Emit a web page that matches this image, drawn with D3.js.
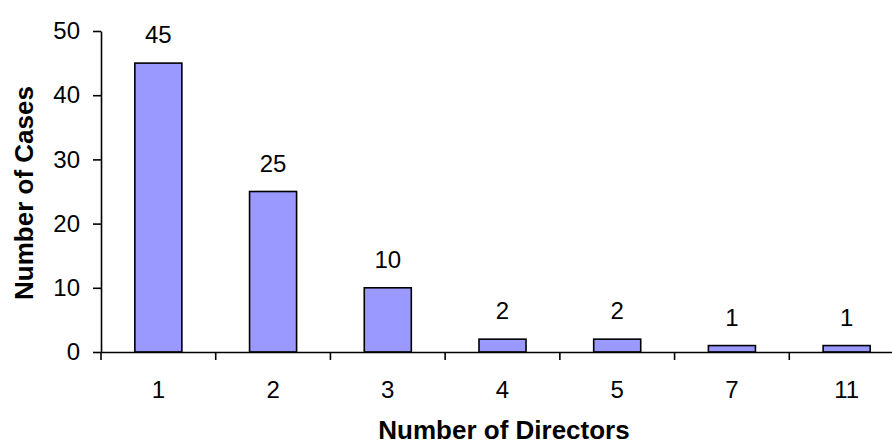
<!DOCTYPE html>
<html>
<head>
<meta charset="utf-8">
<script src="https://cdn.jsdelivr.net/npm/d3@7"></script>
<style>
  body { margin: 0; background: #fff; }
  svg { display: block; font-family: "Liberation Sans", Arial, sans-serif; }
</style>
</head>
<body>
<div id="chart"></div>
<script>
// data
const directors = ['1', '2', '3', '4', '5', '7', '11'];
const cases = [45, 25, 10, 2, 2, 1, 1];
const yTicks = [0, 10, 20, 30, 40, 50];

const width = 892, height = 446;
const margin = { left: 101, top: 31, bottom: 94 };
const plotRight = 904; // axis runs a little past the window edge
const tickFont = 24;

const svg = d3.select('#chart')
    .append('svg')
    .attr('width', width)
    .attr('height', height);

const x = d3.scaleBand()
    .domain(directors)
    .range([margin.left, plotRight])
    .paddingInner(0.59)
    .paddingOuter(0.295);

const y = d3.scaleLinear()
    .domain([0, 50])
    .range([height - margin.bottom, margin.top]);

const y0 = y(0);

// bars
svg.append('g').selectAll('rect')
    .data(cases)
    .enter()
    .append('rect')
    .attr('x', (d, i) => x(directors[i]))
    .attr('y', d => y(d))
    .attr('width', x.bandwidth())
    .attr('height', d => y0 - y(d))
    .attr('fill', '#9999ff')
    .attr('stroke', '#000')
    .attr('stroke-width', 1.6);

// value labels
svg.append('g').selectAll('text')
    .data(cases)
    .enter()
    .append('text')
    .attr('x', (d, i) => x(directors[i]) + x.bandwidth() / 2)
    .attr('y', d => y(d) - 20)
    .attr('text-anchor', 'middle')
    .attr('font-size', tickFont)
    .attr('fill', '#000')
    .text(d => d);

// y axis
const yAxis = svg.append('g')
    .attr('transform', `translate(${margin.left},0)`)
    .call(d3.axisLeft(y).tickValues(yTicks).tickSize(8).tickPadding(13).tickSizeOuter(0));
yAxis.selectAll('text').attr('font-size', tickFont).attr('fill', '#000').attr('font-family', null);
yAxis.selectAll('line, path').attr('stroke', '#000').attr('stroke-width', 1.6);

// x axis: labels at band centres, ticks between bands (excel style)
const xAxis = svg.append('g')
    .attr('transform', `translate(0,${y0})`)
    .call(d3.axisBottom(x).tickSize(0).tickPadding(29).tickSizeOuter(0));
xAxis.selectAll('text').attr('font-size', tickFont).attr('fill', '#000').attr('font-family', null);
xAxis.select('path').attr('stroke', '#000').attr('stroke-width', 1.6);

const step = x.step();
xAxis.append('g').selectAll('line')
    .data(d3.range(directors.length + 1))
    .enter()
    .append('line')
    .attr('x1', i => margin.left + i * step)
    .attr('x2', i => margin.left + i * step)
    .attr('y1', 0)
    .attr('y2', 8)
    .attr('stroke', '#000')
    .attr('stroke-width', 1.6);

// axis titles
svg.append('text')
    .attr('x', 504)
    .attr('y', 439)
    .attr('text-anchor', 'middle')
    .attr('font-size', 26)
    .attr('font-weight', 'bold')
    .text('Number of Directors');

svg.append('text')
    .attr('transform', `translate(33,193) rotate(-90)`)
    .attr('text-anchor', 'middle')
    .attr('font-size', 26)
    .attr('font-weight', 'bold')
    .text('Number of Cases');
</script>
</body>
</html>
